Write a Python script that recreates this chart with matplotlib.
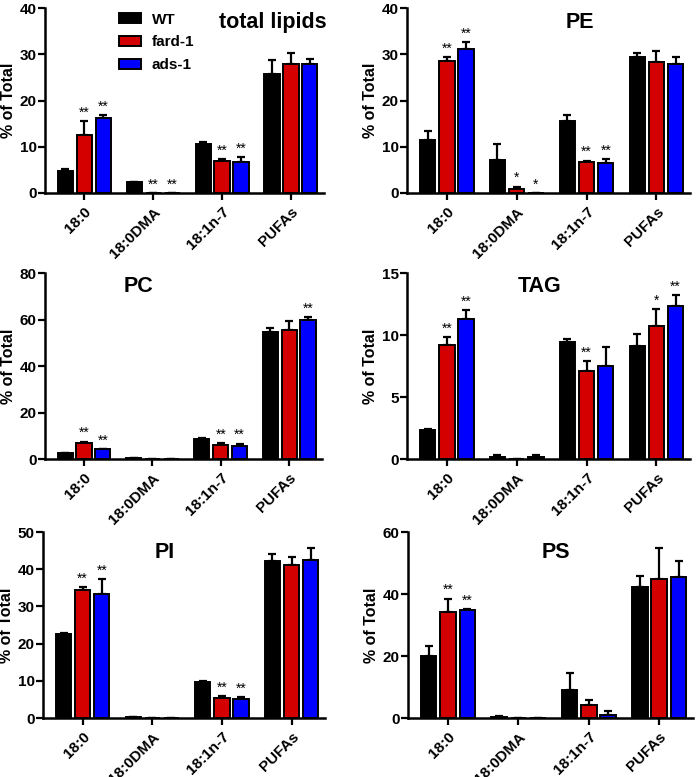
import matplotlib
matplotlib.use('Agg')
import matplotlib.pyplot as plt
from matplotlib.patches import Patch
import numpy as np

plt.rcParams['font.family'] = ['Liberation Sans', 'DejaVu Sans']
plt.rcParams['font.weight'] = 'bold'

categories = ['18:0', '18:0DMA', '18:1n-7', 'PUFAs']
strains = ['WT', 'fard-1', 'ads-1']
colors = ['#000000', '#d40000', '#0000ff']

# values (mean) and upper error, per panel, per strain
total_mean = [[4.7, 2.3, 10.5, 25.8], [12.6, 0.0, 6.9, 27.8], [16.2, 0.0, 6.8, 27.9]]
total_err = [[0.4, 0.1, 0.5, 3.0], [3.0, 0.0, 0.5, 2.5], [0.6, 0.0, 1.0, 1.1]]
pe_mean = [[11.4, 7.1, 15.6, 29.3], [28.5, 0.8, 6.6, 28.4], [31.2, 0.0, 6.4, 28.0]]
pe_err = [[1.9, 3.4, 1.3, 1.0], [0.9, 0.6, 0.4, 2.4], [1.4, 0.0, 0.9, 1.3]]
pc_mean = [[2.5, 0.3, 8.7, 54.5], [7.0, 0.0, 6.1, 55.3], [4.1, 0.0, 5.8, 59.8]]
pc_err = [[0.2, 0.1, 0.4, 1.7], [0.5, 0.0, 0.6, 4.1], [0.3, 0.0, 0.8, 1.2]]
tag_mean = [[2.3, 0.15, 9.4, 9.1], [9.2, 0.0, 7.1, 10.7], [11.3, 0.15, 7.5, 12.3]]
tag_err = [[0.1, 0.2, 0.3, 1.0], [0.6, 0.0, 0.8, 1.4], [0.7, 0.15, 1.5, 0.9]]
pi_mean = [[22.5, 0.3, 9.8, 42.1], [34.3, 0.0, 5.3, 41.0], [33.3, 0.0, 5.2, 42.5]]
pi_err = [[0.3, 0.1, 0.2, 1.9], [0.9, 0.0, 0.5, 2.3], [4.0, 0.0, 0.5, 3.3]]
ps_mean = [[20.0, 0.4, 9.0, 42.2], [34.3, 0.0, 4.1, 44.8], [35.0, 0.0, 1.0, 45.6]]
ps_err = [[3.3, 0.2, 5.5, 3.6], [4.2, 0.0, 1.6, 10.2], [0.2, 0.0, 1.1, 5.0]]

# significance marks: (category index, strain index, text)
total_stars = [(0, 1, '**'), (0, 2, '**'), (1, 1, '**'), (1, 2, '**'), (2, 1, '**'), (2, 2, '**')]
pe_stars = [(0, 1, '**'), (0, 2, '**'), (1, 1, '*'), (1, 2, '*'), (2, 1, '**'), (2, 2, '**')]
pc_stars = [(0, 1, '**'), (0, 2, '**'), (2, 1, '**'), (2, 2, '**'), (3, 2, '**')]
tag_stars = [(0, 1, '**'), (0, 2, '**'), (2, 1, '**'), (3, 1, '*'), (3, 2, '**')]
pi_stars = [(0, 1, '**'), (0, 2, '**'), (2, 1, '**'), (2, 2, '**')]
ps_stars = [(0, 1, '**'), (0, 2, '**')]

panels = [
    ('total lipids', total_mean, total_err, total_stars, 40, 10),
    ('PE', pe_mean, pe_err, pe_stars, 40, 10),
    ('PC', pc_mean, pc_err, pc_stars, 80, 20),
    ('TAG', tag_mean, tag_err, tag_stars, 15, 5),
    ('PI', pi_mean, pi_err, pi_stars, 50, 10),
    ('PS', ps_mean, ps_err, ps_stars, 60, 20),
]

# axes rectangles in pixels (left, right, top, bottom) and title spots (axes fraction)
W, H = 697, 777
rects = [(45, 324, 8, 193), (407, 690, 8, 193),
         (45, 322, 273, 459), (407, 690, 273, 459),
         (43, 325, 532, 718), (408, 693, 532, 718)]
title_pos = [(0.817, 0.92), (0.61, 0.92), (0.336, 0.925), (0.47, 0.93), (0.43, 0.89), (0.52, 0.89)]

fig = plt.figure(figsize=(W / 100, H / 100), dpi=100)

x = np.arange(len(categories))
pitch = 0.275
width = 0.22

for i, (name, means, errs, stars, ymax, ystep) in enumerate(panels):
    l, r, t, b = rects[i]
    ax = fig.add_axes([l / W, 1 - b / H, (r - l) / W, (b - t) / H])
    for s in range(3):
        xs = x + (s - 1) * pitch
        m = np.array(means[s])
        e = np.array(errs[s])
        ax.errorbar(xs, m, yerr=[np.zeros_like(e), e], fmt='none', ecolor='black',
                    elinewidth=1.6, capsize=3, capthick=1.6, zorder=1)
        ax.bar(xs, m, width=width, color=colors[s], edgecolor='black', linewidth=1.4,
               zorder=2, label=strains[s])
    for c, s, txt in stars:
        top = means[s][c] + errs[s][c]
        ax.annotate(txt, (x[c] + (s - 1) * pitch, top), xytext=(0, 1),
                    textcoords='offset points', ha='center', va='bottom',
                    fontsize=10, fontweight='normal')
    ax.set_xlim(-0.57, 3.48)
    ax.set_ylim(0, ymax)
    ax.set_yticks(np.arange(0, ymax + 0.01, ystep))
    ax.set_xticks(x)
    ax.set_xticklabels(categories, rotation=45, ha='right', rotation_mode='anchor', fontsize=11)
    ax.tick_params(axis='y', labelsize=11, width=1.6, length=5, pad=1)
    ax.tick_params(axis='x', width=1.6, length=5)
    for side in ['top', 'right']:
        ax.spines[side].set_visible(False)
    for side in ['left', 'bottom']:
        ax.spines[side].set_linewidth(1.8)
    ax.set_ylabel('% of Total', fontsize=11.5, fontweight='bold', labelpad=3)
    ax.text(title_pos[i][0], title_pos[i][1], name, transform=ax.transAxes,
            ha='center', va='center', fontsize=15.5, fontweight='bold')
    if i == 0:
        handles = [Patch(facecolor=colors[k], edgecolor='black', linewidth=1.4, label=strains[k])
                   for k in range(3)]
        ax.legend(handles=handles, loc='upper left', bbox_to_anchor=(0.215, 1.05),
                  frameon=False, fontsize=11, handlelength=1.45, handleheight=0.65,
                  labelspacing=0.58, handletextpad=0.7)

fig.savefig('out.png', dpi=100)
